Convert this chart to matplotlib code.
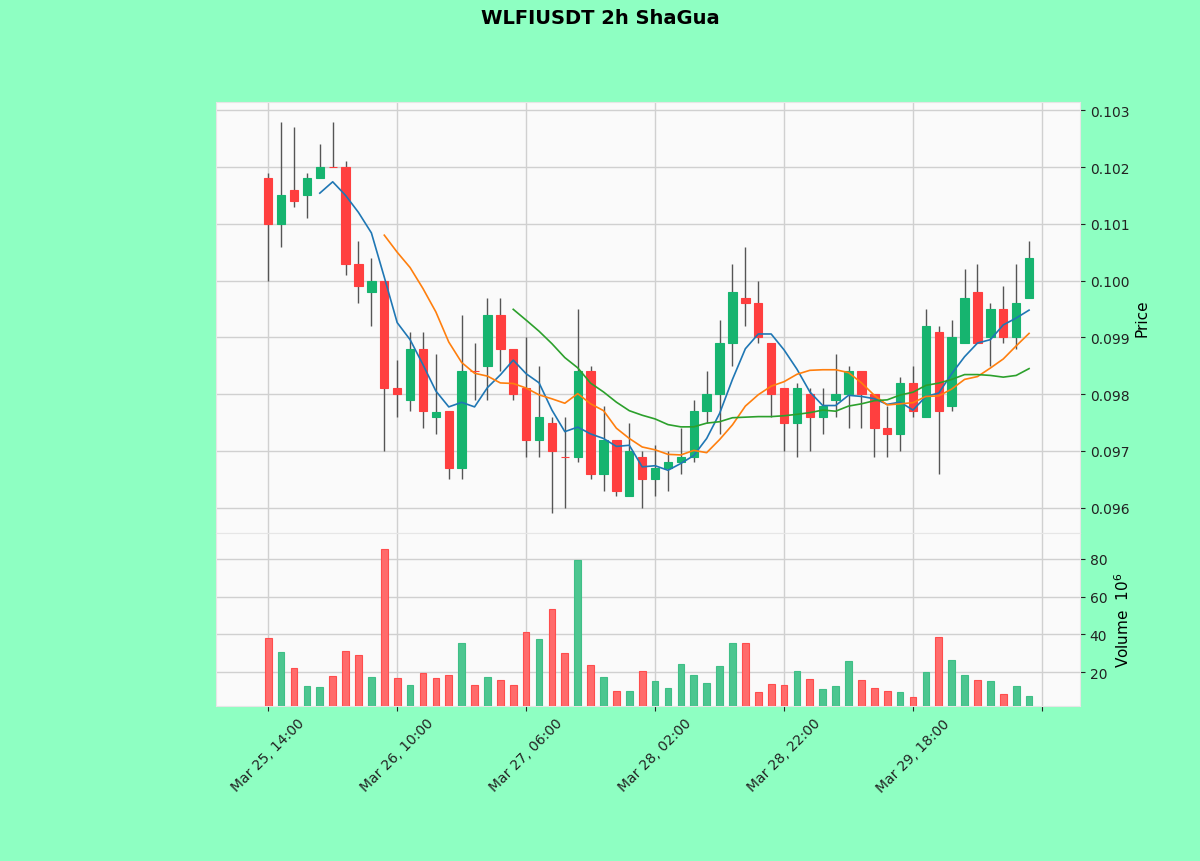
import matplotlib
matplotlib.use("Agg")
import matplotlib.pyplot as plt
from matplotlib.ticker import MultipleLocator, FormatStrFormatter
import numpy as np
import pandas as pd

TITLE = "WLFIUSDT 2h ShaGua"
START = "2025-03-25 14:00"

opens = [0.1018, 0.1010, 0.1016, 0.1015, 0.1018, 0.1020, 0.1020, 0.1003, 0.0998, 0.1000,
         0.0981, 0.0979, 0.0988, 0.0976, 0.0977, 0.0967, 0.0984, 0.0985, 0.0994, 0.0988,
         0.0981, 0.0972, 0.0975, 0.0969, 0.0969, 0.0984, 0.0966, 0.0972, 0.0962, 0.0969,
         0.0965, 0.0967, 0.0968, 0.0969, 0.0977, 0.0980, 0.0989, 0.0997, 0.0996, 0.0989,
         0.0981, 0.0975, 0.0980, 0.0976, 0.0979, 0.0980, 0.0984, 0.0980, 0.0974, 0.0973,
         0.0982, 0.0976, 0.0991, 0.0978, 0.0989, 0.0998, 0.0990, 0.0995, 0.0990, 0.0997]
highs = [0.1019, 0.1028, 0.1027, 0.1019, 0.1024, 0.1028, 0.1021, 0.1007, 0.1004, 0.1000,
         0.0986, 0.0991, 0.0991, 0.0987, 0.0977, 0.0994, 0.0989, 0.0997, 0.0997, 0.0988,
         0.0990, 0.0985, 0.0976, 0.0976, 0.0995, 0.0985, 0.0978, 0.0972, 0.0975, 0.0970,
         0.0971, 0.0970, 0.0974, 0.0979, 0.0984, 0.0993, 0.1003, 0.1006, 0.1000, 0.0989,
         0.0981, 0.0982, 0.0981, 0.0981, 0.0987, 0.0985, 0.0984, 0.0980, 0.0978, 0.0983,
         0.0985, 0.0995, 0.0992, 0.0993, 0.1002, 0.1003, 0.0996, 0.0999, 0.1003, 0.1007]
lows = [0.1000, 0.1006, 0.1013, 0.1011, 0.1018, 0.1020, 0.1001, 0.0996, 0.0992, 0.0970,
        0.0976, 0.0977, 0.0974, 0.0973, 0.0965, 0.0965, 0.0979, 0.0979, 0.0984, 0.0979,
        0.0969, 0.0969, 0.0959, 0.0960, 0.0968, 0.0965, 0.0963, 0.0962, 0.0962, 0.0960,
        0.0962, 0.0963, 0.0966, 0.0968, 0.0975, 0.0973, 0.0985, 0.0992, 0.0989, 0.0976,
        0.0970, 0.0969, 0.0970, 0.0973, 0.0976, 0.0974, 0.0974, 0.0969, 0.0969, 0.0970,
        0.0976, 0.0976, 0.0966, 0.0977, 0.0989, 0.0989, 0.0985, 0.0989, 0.0988, 0.0997]
closes = [0.1010, 0.1015, 0.1014, 0.1018, 0.1020, 0.1020, 0.1003, 0.0999, 0.1000, 0.0981,
          0.0980, 0.0988, 0.0977, 0.09768, 0.0967, 0.0984, 0.0984, 0.0994, 0.0988, 0.0980,
          0.0972, 0.0976, 0.0970, 0.0969, 0.0984, 0.0966, 0.0972, 0.0963, 0.0970, 0.0965,
          0.0967, 0.0968, 0.0969, 0.0977, 0.0980, 0.0989, 0.0998, 0.0996, 0.0990, 0.0980,
          0.0975, 0.0981, 0.0976, 0.0978, 0.0980, 0.0984, 0.0980, 0.0974, 0.0973, 0.0982,
          0.0977, 0.0992, 0.0977, 0.0990, 0.0997, 0.0989, 0.0995, 0.0990, 0.0996, 0.1004]
# volume in millions
volumes = [38.0, 30.6, 22.1, 12.6, 12.1, 17.9, 31.1, 29.0, 17.4, 85.1,
           16.8, 13.1, 19.5, 16.8, 18.4, 35.4, 13.1, 17.4, 15.8, 13.1,
           41.2, 37.5, 53.4, 30.1, 79.3, 23.7, 17.4, 9.9, 9.9, 20.5,
           15.2, 11.5, 24.2, 18.4, 14.2, 23.2, 35.4, 35.4, 9.4, 13.7,
           13.1, 20.5, 16.3, 11.0, 12.6, 25.8, 15.8, 11.5, 9.9, 9.4,
           6.8, 20.0, 38.5, 26.4, 18.4, 15.8, 15.2, 8.4, 12.6, 7.3]
mav_periods = [5, 10, 20]

UP = "#16b46f"
DOWN = "#ff3f3f"
BG = "#8effc2"


def main():
    n = len(closes)
    x = np.arange(n)
    o = np.array(opens)
    c = np.array(closes)
    h = np.array(highs)
    lo = np.array(lows)
    dates = pd.date_range(START, periods=n, freq="2h")

    fig = plt.figure(figsize=(12, 8.62), dpi=100, facecolor=BG)
    ax = fig.add_axes([0.18, 0.3805, 0.72, 0.5])
    axv = fig.add_axes([0.18, 0.1798, 0.72, 0.2007], sharex=ax)

    for a in (ax, axv):
        a.set_facecolor("#fafafa")
        a.grid(True, color="#d0d0d0", lw=1)
        a.set_axisbelow(True)
        for s in a.spines.values():
            s.set_color("#e6e6e6")
        a.yaxis.tick_right()
        a.yaxis.set_label_position("right")
        a.tick_params(colors="#222222", labelsize=10)

    up = c > o
    cols = np.where(up, UP, DOWN)
    ax.vlines(x, lo, h, color="#555555", lw=1, zorder=2)
    ax.bar(x, np.abs(c - o), bottom=np.minimum(o, c), width=0.65,
           color=cols, edgecolor=cols, lw=0.8, zorder=3)

    cs = pd.Series(c)
    for p, col in zip(mav_periods, ["tab:blue", "tab:orange", "tab:green"]):
        ax.plot(x, cs.rolling(p).mean(), color=col, lw=1.2, zorder=4)

    pad = 0.05 * (h.max() - lo.min())
    ax.set_ylim(lo.min() - pad, h.max() + pad)
    ax.yaxis.set_major_locator(MultipleLocator(0.001))
    ax.yaxis.set_major_formatter(FormatStrFormatter("%.3f"))
    ax.set_ylabel("Price", fontsize=11)
    ax.tick_params(axis="x", which="both", length=0, labelbottom=False)

    prev = np.concatenate([[o[0]], c[:-1]])
    vup = c > prev
    vcols = np.where(vup, "#4cc690", "#ff6b6b")
    vedge = np.where(vup, "#3fbf87", "#ff4d4d")
    vol = np.array(volumes)
    axv.bar(x, vol, width=0.52, color=vcols, edgecolor=vedge, lw=0.8, zorder=3)
    axv.set_ylim(0.3 * vol.min(), 1.1 * vol.max())
    axv.yaxis.set_major_locator(MultipleLocator(20))
    axv.set_ylabel("Volume  $10^{6}$", fontsize=11)

    ticks = list(range(0, n + 1, 10))
    labels = [dates[t].strftime("%b %d, %H:%M") if t < n else "" for t in ticks]
    axv.set_xticks(ticks)
    axv.set_xticklabels(labels, rotation=45, ha="center")
    axv.set_xlim(-4.05, 62.95)

    fig.suptitle(TITLE, fontsize=14, fontweight="bold", y=0.99)
    fig.savefig("out.png", dpi=100, facecolor=BG)


if __name__ == "__main__":
    main()
